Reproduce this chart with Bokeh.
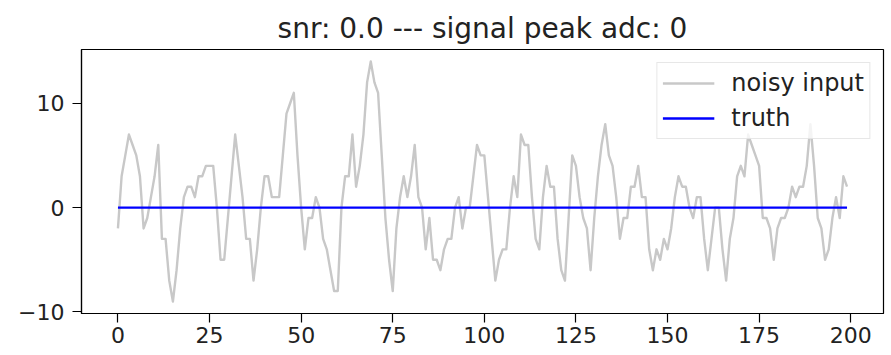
from bokeh.plotting import figure
from bokeh.models import Range1d, FixedTicker, CustomJSTickFormatter, Legend, LegendItem
from bokeh.embed import file_html
from bokeh.resources import INLINE

# ADC samples of the noisy input trace and the (flat) truth signal
sample_index = list(range(200))
noisy_input = [
    -2, 3, 5, 7, 6, 5, 3, -2, -1, 1,
    3, 6, -3, -3, -7, -9, -6, -2, 1, 2,
    2, 1, 3, 3, 4, 4, 4, 0, -5, -5,
    -1, 3, 7, 4, 1, -3, -3, -7, -4, 0,
    3, 3, 1, 1, 1, 5, 9, 10, 11, 5,
    0, -4, -1, -1, 1, 0, -3, -4, -6, -8,
    -8, 0, 3, 3, 7, 2, 4, 7, 12, 14,
    12, 11, 5, -1, -5, -8, -2, 1, 3, 1,
    3, 6, 1, 0, -4, -1, -5, -5, -6, -4,
    -3, -3, 0, 1, -2, 0, 0, 3, 6, 5,
    5, 1, -3, -7, -5, -4, -4, 0, 3, 1,
    7, 6, 6, 1, -3, -4, 1, 4, 2, 2,
    -3, -6, -7, -1, 5, 4, 1, -1, -2, -6,
    -1, 3, 6, 8, 5, 4, 1, -3, -1, -1,
    2, 2, 4, 1, 1, -4, -6, -4, -5, -3,
    -4, -2, 1, 3, 2, 2, 0, -1, 1, 1,
    -3, -6, -3, 0, 0, -4, -7, -3, -1, 3,
    4, 3, 7, 6, 5, 4, -1, -1, -2, -5,
    -2, -1, -1, 0, 2, 1, 2, 2, 4, 8,
    4, -1, -2, -5, -4, -1, 1, -1, 3, 2,
]
truth = [0] * 200

snr = 0.0
signal_peak_adc = 0
title_text = f"snr: {snr:.1f} --- signal peak adc: {signal_peak_adc}"

x_ticks = [0, 25, 50, 75, 100, 125, 150, 175, 200]
y_ticks = [-10, 0, 10]

FONT = "DejaVu Sans"

p = figure(
    width=891, height=355,
    output_backend="svg", toolbar_location=None,
    x_range=Range1d(-9.95, 208.95), y_range=Range1d(-10.15, 15.15),
    min_border_left=81, min_border_right=8,
    min_border_top=49, min_border_bottom=42,
)
p.background_fill_color = "white"
p.border_fill_color = "white"
p.outline_line_color = "black"
p.outline_line_width = 1.2
p.xgrid.visible = False
p.ygrid.visible = False

p.title.text = title_text
p.title.align = "center"
p.title.text_font = FONT
p.title.text_font_size = "28px"
p.title.text_font_style = "normal"
p.title.text_color = "#222222"

for ax, ticks in ((p.xaxis[0], x_ticks), (p.yaxis[0], y_ticks)):
    ax.ticker = FixedTicker(ticks=ticks)
    ax.minor_tick_line_color = None
    ax.major_tick_in = 0
    ax.major_tick_out = 9
    ax.major_tick_line_width = 1.2
    ax.axis_line_width = 1.2
    ax.axis_line_color = "black"
    ax.major_tick_line_color = "black"
    ax.major_label_text_font = FONT
    ax.major_label_text_font_size = "22px"
    ax.major_label_text_color = "#222222"
    ax.formatter = CustomJSTickFormatter(
        code="return tick < 0 ? '\u2212' + Math.abs(tick) : tick.toString();"
    )
p.xaxis[0].major_label_standoff = 4
p.yaxis[0].major_label_standoff = 8

r_noisy = p.line(sample_index, noisy_input, line_color="#c8c8c8", line_width=2.4,
                 line_join="round")
r_truth = p.line(sample_index, truth, line_color="#0000ff", line_width=2.4)

legend = Legend(
    items=[LegendItem(label="noisy input", renderers=[r_noisy]),
           LegendItem(label="truth", renderers=[r_truth])],
    location="top_right",
    margin=13, padding=5, spacing=5,
    label_text_font=FONT, label_text_font_size="24px", label_text_color="#222222",
    label_standoff=17, glyph_width=52, glyph_height=30, label_height=30,
    border_line_color="#d0d0d0", border_line_width=1.2,
    background_fill_color="white", background_fill_alpha=0.8,
)
p.add_layout(legend)

open("out.html", "w").write(file_html(p, INLINE))
